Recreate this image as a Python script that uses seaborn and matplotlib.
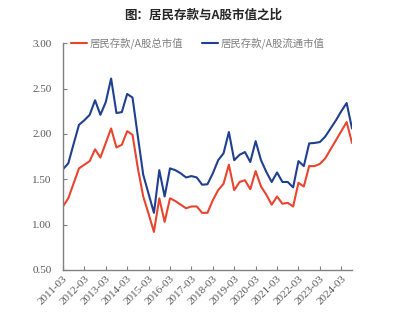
import matplotlib
matplotlib.use("Agg")
import matplotlib.pyplot as plt
import seaborn as sns
import pandas as pd
import numpy as np

# Quarterly data 2011-03 .. 2024-09
quarters = [f"{y}-{m:02d}" for y in range(2011, 2025) for m in (3, 6, 9, 12)][:55]

total_ratio = [1.20, 1.29, 1.455, 1.62, 1.66, 1.70, 1.83, 1.74, 1.90, 2.06,
               1.85, 1.88, 2.03, 1.99, 1.62, 1.31, 1.12, 0.92, 1.29, 1.03,
               1.29, 1.26, 1.22, 1.18, 1.20, 1.20, 1.13, 1.13, 1.27, 1.38,
               1.45, 1.66, 1.38, 1.47, 1.49, 1.39, 1.59, 1.42, 1.33, 1.22,
               1.31, 1.23, 1.24, 1.20, 1.46, 1.42, 1.645, 1.645, 1.67, 1.73,
               1.83, 1.93, 2.03, 2.13, 1.90]

float_ratio = [1.61, 1.675, 1.89, 2.10, 2.15, 2.21, 2.37, 2.21, 2.35, 2.61,
               2.23, 2.24, 2.44, 2.40, 1.97, 1.55, 1.34, 1.13, 1.60, 1.31,
               1.62, 1.60, 1.565, 1.52, 1.535, 1.52, 1.44, 1.445, 1.565, 1.71,
               1.785, 2.02, 1.71, 1.77, 1.80, 1.69, 1.92, 1.71, 1.58, 1.47,
               1.575, 1.47, 1.47, 1.41, 1.70, 1.645, 1.895, 1.90, 1.91, 1.97,
               2.06, 2.15, 2.25, 2.34, 2.06]

series_names = ["居民存款/A股总市值", "居民存款/A股流通市值"]
tick_labels = [f"{y}-03" for y in range(2011, 2025)]
y_ticks = [0.5, 1.0, 1.5, 2.0, 2.5, 3.0]
title = "图：居民存款与A股市值之比"

sns.set_style("white")
plt.rcParams['font.family'] = ['Noto Sans CJK SC', 'DejaVu Sans']

df = pd.DataFrame({
    "idx": list(range(len(quarters))) * 2,
    "value": total_ratio + float_ratio,
    "series": [series_names[0]] * len(total_ratio) + [series_names[1]] * len(float_ratio),
})

fig = plt.figure(figsize=(4.06, 3.22), dpi=100)
ax = fig.add_axes([0.155, 0.1615, 0.712, 0.7045])

sns.lineplot(data=df, x="idx", y="value", hue="series", errorbar=None,
             palette=["#E8452F", "#1F3F8F"], linewidth=1.5, ax=ax, legend=True)

ax.set_xlim(0, len(quarters) - 1)
ax.set_ylim(0.5, 3.0)
ax.set_yticks(y_ticks)
ax.set_yticklabels([f"{v:.2f}" for v in y_ticks], family="Liberation Serif",
                   fontsize=8, color="#595959")
tick_pos = [quarters.index(t) for t in tick_labels]
ax.set_xticks(tick_pos)
ax.set_xticklabels(tick_labels, rotation=45, ha="right", rotation_mode="anchor",
                   family="Liberation Serif", fontsize=8, color="#595959")
ax.set_xlabel("")
ax.set_ylabel("")
ax.tick_params(axis="both", direction="in", length=3, width=0.8, color="#808080",
               pad=3, left=True, bottom=True)
ax.tick_params(axis="y", pad=8)
for s in ["top", "right"]:
    ax.spines[s].set_visible(False)
for s in ["left", "bottom"]:
    ax.spines[s].set_color("#808080")
    ax.spines[s].set_linewidth(1.0)

leg = ax.legend(loc="upper left", bbox_to_anchor=(0.012, 1.045), ncol=2,
                frameon=False, fontsize=7.5, handlelength=1.6, handletextpad=0.2,
                columnspacing=1.8, borderaxespad=0)
for t in leg.get_texts():
    t.set_color("#7F7F7F")

fig.text(0.5, 0.953, title, ha="center", va="center", fontsize=9,
         fontweight="bold", color="#262626")

fig.savefig("out.png", dpi=100)
